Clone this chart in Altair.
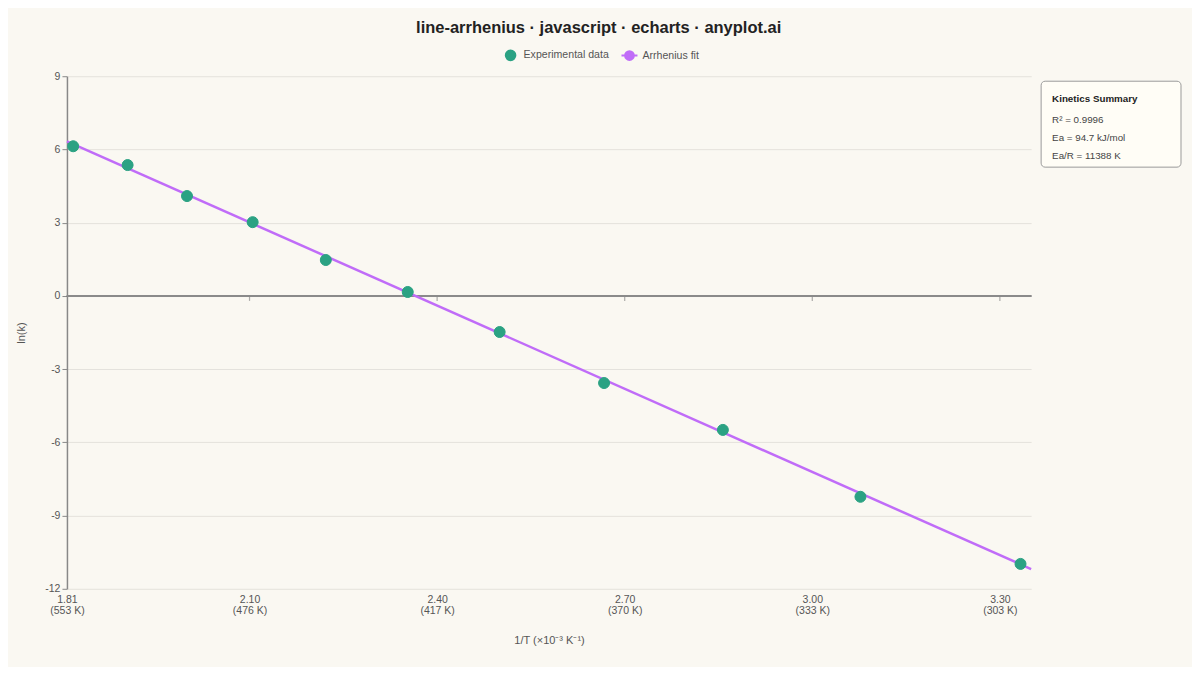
import altair as alt
import pandas as pd

temps_k = [550, 525, 500, 475, 450, 425, 400, 375, 350, 325, 300]
inv_t = [1.818, 1.905, 2.000, 2.105, 2.222, 2.353, 2.500, 2.667, 2.857, 3.077, 3.333]
ln_k = [6.13, 5.36, 4.09, 3.02, 1.47, 0.16, -1.48, -3.57, -5.49, -8.23, -10.98]

# Arrhenius fit line, end to end across the axis
fit_inv_t = [1.808, 3.35]
fit_ln_k = [6.33, -11.19]

x_tick_values = [1.808, 2.1, 2.4, 2.7, 3.0, 3.3]
x_tick_labels = [["1.81", "(553 K)"], ["2.10", "(476 K)"], ["2.40", "(417 K)"],
                 ["2.70", "(370 K)"], ["3.00", "(333 K)"], ["3.30", "(303 K)"]]
zero_line_ticks = [2.1, 2.4, 2.7, 3.0, 3.3]
y_tick_values = [-12, -9, -6, -3, 0, 3, 6, 9]

series_names = ["Experimental data", "Arrhenius fit"]
series_colors = ["#2ba283", "#c06cf8"]

summary_title = "Kinetics Summary"
summary_lines = ["R² = 0.9996", "Ea = 94.7 kJ/mol", "Ea/R = 11388 K"]

FONT = "Liberation Sans"
BG = "#faf8f2"

points_df = pd.DataFrame({"inv_t": inv_t, "ln_k": ln_k, "T": temps_k,
                          "series": series_names[0]})
fit_df = pd.DataFrame({"inv_t": fit_inv_t, "ln_k": fit_ln_k})
ticks_df = pd.DataFrame({"inv_t": zero_line_ticks})

# two-line tick labels from the lists above
label_map = ", ".join(f"'{v:.3f}': ['{a}', '{b}']" for v, (a, b) in zip(x_tick_values, x_tick_labels))
label_expr = f"{{{label_map}}}[format(datum.value, '.3f')]"

x_enc = alt.X("inv_t:Q",
              scale=alt.Scale(domain=[1.808, 3.35], nice=False, zero=False),
              axis=alt.Axis(values=x_tick_values, labelExpr=label_expr, domain=False,
                            ticks=False, tickSize=0, grid=False, labelPadding=6,
                            labelFlush=False, labelLineHeight=11,
                            title="1/T  (×10⁻³ K⁻¹)", titlePadding=18))
y_enc = alt.Y("ln_k:Q",
              scale=alt.Scale(domain=[-12, 9], nice=False),
              axis=alt.Axis(values=y_tick_values, title="ln(k)", grid=True,
                            labelExpr="toString(datum.value)",
                            domain=True, domainColor="#888", domainWidth=1.5,
                            ticks=True, tickSize=5, tickColor="#888", labelPadding=2,
                            titlePadding=18))

legend = alt.Legend(title=None, orient="none", legendX=435, legendY=-30,
                    direction="horizontal", symbolSize=256, symbolStrokeWidth=2,
                    labelOffset=4, columnPadding=8, padding=0)

circle_path = "M0.6,0A0.6,0.6,0,1,1,-0.6,0A0.6,0.6,0,1,1,0.6,0Z"
fit_path = "M-1,0H1M0.55,0A0.55,0.55,0,1,1,-0.55,0A0.55,0.55,0,1,1,0.55,0Z"

zero_rule = alt.Chart(points_df).mark_rule(color="#8a8a8a", strokeWidth=1.5).encode(
    y=alt.datum(0)
)

zero_ticks = alt.Chart(ticks_df).mark_tick(
    orient="vertical", color="#8a8a8a", size=5, thickness=1.2, yOffset=2.5
).encode(x=alt.X("inv_t:Q"), y=alt.datum(0))

fit_line = alt.Chart(fit_df).mark_line(color=series_colors[1], strokeWidth=2.5).encode(
    x="inv_t:Q", y="ln_k:Q"
)

points = alt.Chart(points_df).mark_point(filled=True, size=336, opacity=1, strokeWidth=1).encode(
    x=x_enc,
    y=y_enc,
    color=alt.Color("series:N", scale=alt.Scale(domain=series_names, range=series_colors), legend=legend),
    stroke=alt.Stroke("series:N", scale=alt.Scale(domain=series_names, range=series_colors), legend=legend),
    shape=alt.Shape("series:N", scale=alt.Scale(domain=series_names, range=[circle_path, fit_path]), legend=legend),
    tooltip=["T:Q", "inv_t:Q", "ln_k:Q"]
)

one_row = alt.Data(values=[{}])

summary_box = alt.Chart(one_row).mark_rect(
    fill="#fffdf6", stroke="#9a9a9a", strokeWidth=1, cornerRadius=4
).encode(x=alt.value(975), x2=alt.value(1115), y=alt.value(5), y2=alt.value(91))

summary_head = alt.Chart(one_row).mark_text(
    text=summary_title, align="left", baseline="middle", font=FONT,
    fontSize=9.8, fontWeight="bold", color="#222"
).encode(x=alt.value(986), y=alt.value(23))

summary_body = alt.Chart(one_row).mark_text(
    text=summary_lines, align="left", baseline="middle", font=FONT,
    fontSize=9.8, lineHeight=18, color="#444"
).encode(x=alt.value(986), y=alt.value(44))

chart = alt.layer(
    zero_rule, zero_ticks, fit_line, points, summary_box, summary_head, summary_body
).properties(
    width=965,
    height=513,
    background=BG,
    padding={"left": 7, "top": 11, "right": 10, "bottom": 21},
    title=alt.TitleParams("line-arrhenius · javascript · echarts · anyplot.ai",
                          anchor="middle", frame="bounds", fontSize=16.5,
                          fontWeight="bold", font=FONT, color="#222", offset=10)
).configure_view(
    stroke=None
).configure_axis(
    labelFont=FONT, titleFont=FONT, labelFontSize=10.5, titleFontSize=11,
    labelColor="#555", titleColor="#555", titleFontWeight="normal",
    gridColor="#e4e2dc", gridWidth=1
).configure_legend(
    labelFont=FONT, labelFontSize=10.6, labelColor="#555"
)

chart.save("out.html", embed_options={"renderer": "svg", "actions": False})
